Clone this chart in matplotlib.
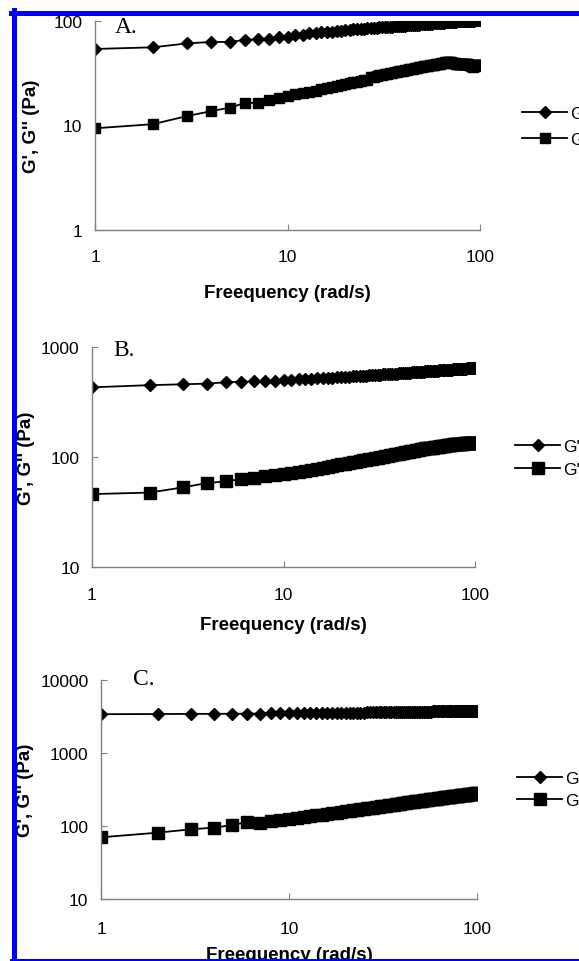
import numpy as np
import matplotlib
matplotlib.use("Agg")
import matplotlib.pyplot as plt
from matplotlib.ticker import LogLocator, FuncFormatter, NullLocator
from matplotlib.lines import Line2D

plt.rcParams['font.family'] = ['Liberation Sans', 'DejaVu Sans']

# frequency (rad/s), 1..100
freq = [1, 2, 3, 4, 5, 6, 7, 8, 9, 10,
        11, 12, 13, 14, 15, 16, 17, 18, 19, 20,
        21, 22, 23, 24, 25, 26, 27, 28, 29, 30,
        31, 32, 33, 34, 35, 36, 37, 38, 39, 40,
        41, 42, 43, 44, 45, 46, 47, 48, 49, 50,
        51, 52, 53, 54, 55, 56, 57, 58, 59, 60,
        61, 62, 63, 64, 65, 66, 67, 68, 69, 70,
        71, 72, 73, 74, 75, 76, 77, 78, 79, 80,
        81, 82, 83, 84, 85, 86, 87, 88, 89, 90,
        91, 92, 93, 94, 95, 96, 97, 98, 99, 100]

# panel A
gp_a = [54, 56, 61, 63, 63, 66, 67, 68, 70, 71,
        73, 74, 76, 77, 78, 79, 79, 80, 81, 82,
        82, 83, 83, 84, 84, 85, 85, 86, 86, 87,
        87, 87, 88, 88, 88, 89, 89, 89, 90, 90,
        90, 91, 91, 91, 92, 92, 92, 92, 93, 93,
        93, 93, 94, 94, 94, 94, 95, 95, 95, 95,
        96, 96, 96, 96, 96, 97, 97, 97, 97, 97,
        98, 98, 98, 98, 98, 99, 99, 99, 99, 99,
        99, 100, 100, 100, 100, 100, 100, 101, 101, 101,
        101, 101, 101, 102, 102, 102, 102, 102, 102, 103]
gpp_a = [9.4, 10.3, 12.3, 13.7, 14.8, 16.4, 16.5, 17.6, 18.3, 19.2,
         19.8, 20.4, 21.0, 21.6, 22.2, 22.7, 23.2, 23.7, 24.2, 24.8,
         25.3, 25.8, 26.3, 26.7, 27.1, 27.5, 29.0, 29.4, 29.8, 30.2,
         30.6, 31.0, 31.4, 31.7, 32.0, 32.3, 32.6, 32.9, 33.2, 33.5,
         33.8, 34.1, 34.4, 34.7, 35.0, 35.3, 35.6, 35.9, 36.2, 36.5,
         36.8, 37.0, 37.2, 37.4, 37.6, 37.8, 38.0, 38.2, 38.4, 38.6,
         38.8, 39.0, 39.3, 39.6, 39.9, 40.2, 40.5, 40.6, 40.6, 40.5,
         40.3, 40.0, 39.7, 39.4, 39.2, 39.0, 38.9, 38.8, 38.8, 38.8,
         38.8, 38.8, 38.8, 38.8, 38.7, 38.6, 38.4, 38.0, 37.6, 37.2,
         36.8, 36.6, 36.8, 37.2, 37.6, 38.0, 38.2, 38.2, 38.0, 37.8]

# panel B
gp_b = [430, 450, 458, 465, 478, 483, 487, 491, 495, 499,
        503, 507, 511, 515, 518, 521, 524, 527, 530, 533,
        536, 538, 541, 543, 546, 548, 550, 553, 555, 557,
        559, 561, 563, 565, 567, 569, 571, 572, 574, 576,
        578, 580, 581, 583, 585, 586, 588, 589, 591, 592,
        594, 595, 597, 598, 599, 601, 602, 603, 605, 606,
        607, 608, 610, 611, 612, 613, 614, 615, 616, 618,
        619, 620, 621, 622, 623, 624, 625, 626, 627, 628,
        629, 630, 631, 632, 633, 634, 635, 636, 636, 637,
        638, 639, 640, 641, 641, 642, 643, 644, 645, 646]
gpp_b = [46, 47.5, 53, 58, 60, 63, 64.5, 66.5, 68.5, 70.5,
         72, 73.5, 75, 76.5, 78, 79.5, 81, 82.5, 84, 85.5,
         87, 88, 89.5, 90.5, 92, 93, 94.5, 95.5, 96.5, 97.5,
         98.5, 99.5, 100.5, 101.5, 102.5, 103.5, 104.5, 105.5, 106.5, 107.5,
         108.5, 109.5, 110.5, 111, 112, 113, 113.5, 114.5, 115, 116,
         116.5, 117.5, 118, 119, 119.5, 120, 120.5, 121, 121.5, 122,
         122.5, 123, 123.5, 124, 124.5, 125, 125.5, 126, 126.5, 127,
         127.5, 128, 128.5, 129, 129, 129.5, 130, 130, 130.5, 131,
         131, 131.5, 131.5, 132, 132, 132.5, 132.5, 133, 133, 133,
         133.5, 133.5, 134, 134, 134, 134.5, 134.5, 135, 135, 135]

# panel C
gp_c = [3400, 3420, 3430, 3440, 3450, 3460, 3470, 3480, 3490, 3500,
        3510, 3515, 3520, 3525, 3530, 3540, 3545, 3550, 3555, 3560,
        3565, 3570, 3575, 3580, 3585, 3590, 3595, 3600, 3600, 3605,
        3610, 3615, 3620, 3620, 3625, 3630, 3635, 3640, 3640, 3645,
        3650, 3650, 3655, 3660, 3660, 3665, 3670, 3670, 3675, 3680,
        3680, 3685, 3690, 3690, 3695, 3700, 3700, 3705, 3705, 3710,
        3715, 3715, 3720, 3720, 3725, 3730, 3730, 3735, 3735, 3740,
        3740, 3745, 3745, 3750, 3750, 3755, 3755, 3760, 3760, 3765,
        3765, 3770, 3770, 3775, 3775, 3780, 3780, 3785, 3785, 3790,
        3790, 3795, 3795, 3800, 3800, 3805, 3805, 3810, 3810, 3815]
gpp_c = [70, 81, 90, 95, 103, 113, 110, 116, 120, 124,
         128, 132, 136, 140, 143, 146, 149, 152, 155, 158,
         161, 164, 167, 169, 172, 174, 177, 179, 182, 184,
         186, 188, 190, 192, 194, 196, 198, 200, 202, 204,
         206, 208, 210, 212, 213, 215, 217, 218, 220, 222,
         223, 225, 226, 228, 229, 231, 232, 234, 235, 236,
         238, 239, 240, 242, 243, 244, 246, 247, 248, 249,
         250, 252, 253, 254, 255, 256, 257, 258, 260, 261,
         262, 263, 264, 265, 266, 267, 268, 269, 270, 271,
         272, 273, 274, 275, 276, 277, 278, 279, 280, 281]

labels = ["G'", "G''"]
panels = ["A.", "B.", "C."]

W, H = 579, 962
fig = plt.figure(figsize=(W / 100, H / 100), dpi=100)

def fx(px):
    return px / W

def fy(px):
    return 1 - px / H

# pixel boxes: left, top, right, bottom
boxes = [(95, 22, 480, 231), (92, 348, 475, 568), (101, 681, 477, 900)]
ylims = [(1, 100), (10, 1000), (10, 10000)]
data = [(gp_a, gpp_a), (gp_b, gpp_b), (gp_c, gpp_c)]
dsize = [8.5, 9.0, 8.5]   # diamond diagonal, pt
ssize = [6.5, 8.5, 8.5]   # square side, pt
ylab_x = [32, 26, 26]
xlab_y = [293, 625, 956]
tag_pos = [(115, 33), (113, 356), (133, 685)]
leg_x = [522, 515, 517]
leg_y = [(112, 143), (445, 473), (777, 804)]
xpad = [13.5, 14.5, 15.5]

fmt = FuncFormatter(lambda v, p: "%g" % v)
fs = 12.5

for i in range(3):
    l, t, r, b = boxes[i]
    ax = fig.add_axes([fx(l), fy(b), fx(r - l), (b - t) / H])
    g1, g2 = data[i]
    ax.plot(freq, g1, color='black', lw=1.3, marker='D', ms=dsize[i] / 1.414, label=labels[0])
    ax.plot(freq, g2, color='black', lw=1.3, marker='s', ms=ssize[i], label=labels[1])
    ax.set_xscale('log')
    ax.set_yscale('log')
    ax.set_xlim(1, 100)
    ax.set_ylim(*ylims[i])
    ax.xaxis.set_major_locator(LogLocator(base=10))
    ax.yaxis.set_major_locator(LogLocator(base=10))
    ax.xaxis.set_minor_locator(NullLocator())
    ax.yaxis.set_minor_locator(NullLocator())
    ax.xaxis.set_major_formatter(fmt)
    ax.yaxis.set_major_formatter(fmt)
    for s in ['top', 'right']:
        ax.spines[s].set_visible(False)
    for s in ['left', 'bottom']:
        ax.spines[s].set_color('#808080')
        ax.spines[s].set_linewidth(1.0)
    ax.tick_params(axis='both', direction='in', length=4, width=0.8, color='#808080', labelsize=fs)
    ax.tick_params(axis='x', pad=xpad[i])
    ax.tick_params(axis='y', pad=9)

    ax.set_xlabel("Freequency (rad/s)", fontsize=13.5, fontweight='bold', va='center')
    ax.xaxis.set_label_coords(0.5, -(xlab_y[i] - b) / (b - t))
    ax.set_ylabel("G', G'' (Pa)", fontsize=13.5, fontweight='bold', va='center')
    ax.yaxis.set_label_coords((ylab_x[i] - l) / (r - l), 0.5)

    tx, ty = tag_pos[i]
    fig.text(fx(tx), fy(ty), panels[i], family='Liberation Serif', fontsize=17, va='baseline', ha='left')

    y1, y2 = leg_y[i]
    sp = (y2 - y1) / (fs * 100 / 72) - 1.15
    ax.legend(loc='center left', bbox_to_anchor=(fx(leg_x[i]), fy((y1 + y2) / 2)),
              bbox_transform=fig.transFigure, frameon=False, fontsize=fs,
              handlelength=2.6, handletextpad=0.2, borderpad=0, borderaxespad=0,
              labelspacing=sp)

# blue frame of the scanned figure
fig.add_artist(Line2D([fx(13.5), fx(13.5)], [fy(11), fy(962)], color='#0000ff', lw=3.6))
fig.add_artist(Line2D([fx(11), 1.0], [fy(13.5), fy(13.5)], color='#0000ff', lw=3.6))
fig.add_artist(Line2D([fx(11), 1.0], [fy(960.5), fy(960.5)], color='#0000ff', lw=2.2))

fig.savefig("out.png", dpi=100)
